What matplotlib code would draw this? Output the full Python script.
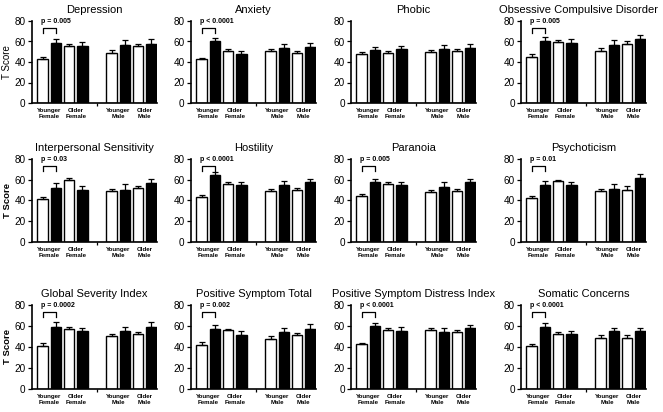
import numpy as np
import matplotlib
matplotlib.use("Agg")
import matplotlib.pyplot as plt

plt.rcParams['font.family'] = ['Liberation Sans', 'DejaVu Sans']

# datos (blanco = barra vacia, negro = barra rellena)
titulos = ["Depression", "Anxiety", "Phobic", "Obsessive Compulsive Disorder",
           "Interpersonal Sensitivity", "Hostility", "Paranoia", "Psychoticism",
           "Global Severity Index", "Positive Symptom Total",
           "Positive Symptom Distress Index", "Somatic Concerns"]
grupos = ["Younger\nFemale", "Older\nFemale", "Younger\nMale", "Older\nMale"]

blanco = [
    [43, 55.5, 49, 55.5],
    [42.5, 51, 50.5, 49],
    [47.5, 49, 49.5, 51],
    [45, 59.5, 51, 58],
    [41, 59.5, 49.5, 52],
    [43.5, 55.5, 49, 50.5],
    [44, 55.5, 48, 49.5],
    [42.5, 58.5, 49.5, 50.5],
    [41, 57.5, 50.5, 52],
    [42, 56, 48, 51.5],
    [42.5, 56, 56.5, 54.5],
    [41, 52.5, 49, 49],
]
negro = [
    [59, 56, 57, 58],
    [60, 47.5, 53.5, 54.5],
    [51.5, 53, 53, 54],
    [60, 59, 56.5, 62.5],
    [52, 50, 50.5, 56.5],
    [64.5, 54.5, 54.5, 57.5],
    [57.5, 54.5, 53, 57.5],
    [55, 55, 51.5, 61.5],
    [59.5, 55, 55.5, 59.5],
    [57, 51.5, 54.5, 57],
    [60, 55.5, 54.5, 58],
    [59.5, 52.5, 55.5, 55.5],
]
err_blanco = [
    [2, 1.8, 2.5, 2],
    [1.5, 2, 2, 2],
    [2, 1.5, 2, 2],
    [2.5, 2, 2.5, 2.5],
    [2, 2, 2, 1.5],
    [2, 2, 2.5, 2],
    [2, 2, 2, 2],
    [2, 1.5, 2, 3.5],
    [2.5, 1.5, 2, 2],
    [2.5, 1.5, 2.5, 2],
    [1.5, 2, 1.5, 2],
    [2, 2, 2, 2],
]
err_negro = [
    [3, 3.5, 4, 4.5],
    [3.5, 3, 4, 4],
    [3.5, 2.5, 3.5, 3.5],
    [4, 3, 5, 4],
    [4.5, 3.5, 5, 4.5],
    [3, 3.5, 4.5, 3.5],
    [3.5, 3.5, 4.5, 3.5],
    [4, 3, 4, 4],
    [4, 3.5, 4, 4.5],
    [4, 4, 3.5, 4.5],
    [2.5, 3.5, 4, 3],
    [3, 3, 3, 3],
]
p_valores = ["p = 0.005", "p < 0.0001", None, "p = 0.005",
             "p = 0.03", "p < 0.0001", "p = 0.005", "p = 0.01",
             "p = 0.0002", "p = 0.002", "p < 0.0001", "p < 0.0001"]

W, H = 663, 412
col_izq = [32, 191, 351, 521]
fila_arriba = [21, 159, 305]
fila_abajo = [103, 242, 389]
ancho_px = 125

pos_blanco = np.array([1, 3, 6.2, 8.2])
pos_negro = pos_blanco + 1
centros = pos_blanco + 0.5

fig = plt.figure(figsize=(W / 100, H / 100), dpi=100)

for i, titulo in enumerate(titulos):
    fila, col = divmod(i, 4)
    ax = fig.add_axes([col_izq[col] / W, 1 - fila_abajo[fila] / H,
                       ancho_px / W, (fila_abajo[fila] - fila_arriba[fila]) / H])

    ax.bar(pos_blanco, blanco[i], width=0.78, color="white", edgecolor="black",
           linewidth=1.0, zorder=2)
    ax.bar(pos_negro, negro[i], width=0.78, color="black", edgecolor="black",
           linewidth=1.0, zorder=2)
    ax.errorbar(pos_blanco, blanco[i], yerr=[np.zeros(4), err_blanco[i]], fmt="none",
                ecolor="black", elinewidth=0.9, capsize=2.2, capthick=0.9, zorder=3)
    ax.errorbar(pos_negro, negro[i], yerr=[np.zeros(4), err_negro[i]], fmt="none",
                ecolor="black", elinewidth=0.9, capsize=2.2, capthick=0.9, zorder=3)

    ax.set_xlim(0.2, 9.62)
    ax.set_ylim(0, 80)
    ax.set_yticks([0, 20, 40, 60, 80])
    ax.set_xticks(centros)
    ax.set_xticklabels(grupos, fontsize=4.4, fontweight="bold", linespacing=1.35)
    ax.set_xticks([5.1], minor=True)
    ax.tick_params(axis="x", which="major", length=0, pad=3.5)
    ax.tick_params(axis="x", which="minor", length=2.5, width=0.9)
    ax.tick_params(axis="y", labelsize=7.2, length=3, width=0.9, pad=1.5)
    for lado in ["top", "right"]:
        ax.spines[lado].set_visible(False)
    for lado in ["left", "bottom"]:
        ax.spines[lado].set_linewidth(1.2)

    # el titulo largo va un poco a la izquierda para que quepa
    x_titulo = 0.46 if len(titulo) > 28 and col == 3 else 0.5
    ax.set_title(titulo, fontsize=8, pad=6, x=x_titulo)

    if col == 0:
        ax.set_ylabel("T Score", fontsize=7 if fila == 0 else 6.8,
                      fontweight="normal" if fila == 0 else "bold", labelpad=1.5)

    if p_valores[i]:
        x1, x2 = pos_blanco[0], pos_negro[0]
        ax.plot([x1, x1, x2, x2], [68.5, 73.5, 73.5, 68.5], color="black",
                linewidth=0.9, clip_on=False)
        ax.text(x1 - 0.15, 76, p_valores[i], fontsize=5, fontweight="bold",
                ha="left", va="bottom")

fig.savefig("out.png", dpi=100)
